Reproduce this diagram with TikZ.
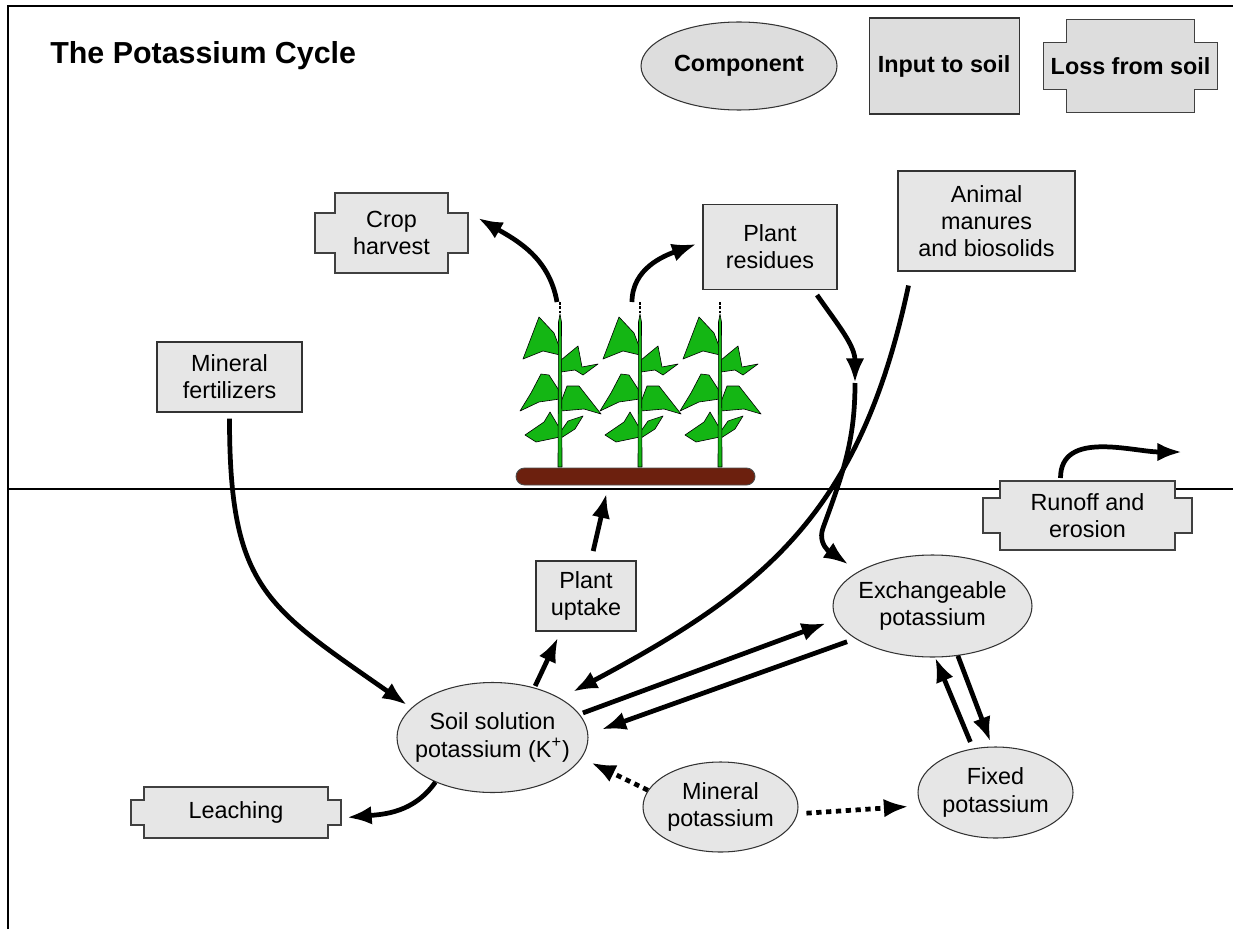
\documentclass[tikz,border=0pt]{standalone}
\usepackage{fontspec}
\setmainfont{Liberation Sans}
\usetikzlibrary{positioning,calc,arrows.meta,shapes.geometric,backgrounds}

\definecolor{boxgray}{RGB}{230,230,230}
\definecolor{keygray}{RGB}{221,221,221}
\definecolor{leafgreen}{RGB}{20,182,20}
\definecolor{soilbrown}{RGB}{108,32,14}

\newcommand{\pxu}{0.02cm}
\newcommand{\potfont}{\fontsize{13.3}{15.5}\selectfont}
% notched outline of a loss box, put behind its node
\newcommand{\lossframe}[3][boxgray]{%
  \begin{scope}[on background layer]
    \filldraw[fill=#1, draw=black!75, line width=0.6pt]
      ($(#2.north west)+(#3,0)$) -- ($(#2.north east)+(-#3,0)$) -- ($(#2.north east)+(-#3,#3)$)
      -- ($(#2.north east)+(0,#3)$) -- ($(#2.south east)+(0,-#3)$) -- ($(#2.south east)+(-#3,-#3)$)
      -- ($(#2.south east)+(-#3,0)$) -- ($(#2.south west)+(#3,0)$) -- ($(#2.south west)+(#3,-#3)$)
      -- ($(#2.south west)+(0,-#3)$) -- ($(#2.north west)+(0,#3)$) -- ($(#2.north west)+(#3,#3)$) -- cycle;
  \end{scope}}

\begin{document}
\begin{tikzpicture}[x=0.02cm, y=-0.02cm, font=\potfont,
  wh/.style 2 args={minimum width=#1*\pxu, minimum height=#2*\pxu},
  comp/.style={ellipse, draw=black!80, fill=boxgray, line width=0.6pt, inner sep=-8pt, align=center},
  inbox/.style={rectangle, draw=black!80, fill=boxgray, line width=0.6pt, inner sep=0pt, align=center},
  lossbox/.style={rectangle, inner sep=0pt, outer sep=0pt, align=center},
  soilbed/.style={rectangle, draw=black!70, fill=soilbrown, line width=0.5pt, rounded corners=0.17cm, wh={239}{17}, inner sep=0pt},
  leaf/.style={fill=leafgreen, draw=black, line width=0.35pt, line join=round},
  flow/.style={line width=2.7pt, -{Latex[length=14pt,width=10.5pt]}},
  slow/.style={flow, dash pattern=on 3pt off 2.6pt}]
\useasboundingbox (0,0) rectangle (1233,929);

% frame and ground surface
\begin{scope}[on background layer]
  \draw[line width=1.1pt] (8,929) -- (8,6) -- (1233,6);
  \draw[line width=0.6pt] (8,489) -- (1233,489);
\end{scope}

% title and key
\node[anchor=base west, inner sep=0pt, font=\fontsize{17.3}{20}\selectfont\bfseries] (title) at (50,64) {The Potassium Cycle};
\node[comp, wh={196}{88}, fill=keygray, font=\potfont\bfseries] (keycomp) at (739,66) {Component};
\node[inbox, wh={150}{96}, fill=keygray, font=\potfont\bfseries, right=0.62cm of keycomp] (keyin) {Input to soil};
\node[lossbox, wh={174}{93}, font=\potfont\bfseries, right=0.48cm of keyin] (keyloss) {Loss from soil};

% crop
\foreach \sx in {560,640,720}{
  \begin{scope}[shift={(\sx,0)}]
    \draw[leaf] (0,349) -- (-6,333) -- (-21,317) -- (-29,338) -- (-37,359) -- (-17,351) -- (0,355) -- cycle;
    \draw[leaf] (1,360) -- (18,346) -- (22,367) -- (38,364) -- (23,375) -- (15,370) -- (1,372) -- cycle;
    \draw[leaf] (0,392) -- (-11,375) -- (-19,374) -- (-29,393) -- (-40,411) -- (-21,402) -- (0,399) -- cycle;
    \draw[leaf] (1,402) -- (7,386) -- (19,386) -- (41,414) -- (24,409) -- (1,411) -- cycle;
    \draw[leaf] (0,429) -- (-10,412) -- (-16,422) -- (-35,435) -- (-24,442) -- (0,437) -- cycle;
    \draw[leaf] (1,431) -- (8,421) -- (23,416) -- (15,429) -- (1,438) -- cycle;
    \draw[leaf] (-2,467) -- (-1.5,322) -- (0,314) -- (1.5,322) -- (2,467) -- cycle;
    \draw[line width=0.8pt, dash pattern=on 1.5pt off 1pt] (0,302) -- (0,313);
  \end{scope}}
\node[soilbed] (bed) at (635.5,476.5) {};
\coordinate (tip1) at (557,302);
\coordinate (tip2) at (632,302);

% inputs, losses and components
\node[lossbox, wh={153}{80}] (crop) at (391.5,233) {Crop\\harvest};
\node[inbox, wh={134}{85}] (residues) at (770,247) {Plant\\residues};
\node[inbox, wh={177}{100}] (manures) at (986.5,221) {Animal\\manures\\and biosolids};
\node[inbox, wh={145}{70}] (minfert) at (229.5,377) {Mineral\\fertilizers};
\node[inbox, wh={100}{70}] (uptake) at (586,596) {Plant\\uptake};
\node[comp, wh={191}{110}] (soil) at (492.5,737.5) {Soil solution\\potassium (K\textsuperscript{+})};
\node[comp, wh={199}{102}] (exch) at (932.5,606) {Exchangeable\\potassium};
\node[comp, wh={155}{91}] (fixed) at (995.5,792.5) {Fixed\\potassium};
\node[comp, wh={155}{90}] (mineral) at (720.5,807) {Mineral\\potassium};
\node[lossbox, wh={209}{69}] (runoff) at (1087.5,515.5) {Runoff and\\erosion};
\node[lossbox, wh={210}{51}] (leach) at (236,812.5) {Leaching};

\lossframe[keygray]{keyloss}{23}
\lossframe{crop}{20}
\lossframe{runoff}{17}
\lossframe{leach}{13}

% flows
\coordinate (bend) at (855,383);
\coordinate (dip) at (823,528);
\coordinate (away) at (1182,452);
\draw[flow, shorten <=3.5pt, shorten >=3pt] (minfert.south) to[out=-90, in=145, looseness=1.3] (soil.160);
\draw[flow, shorten <=1pt] (soil.50) -- ($(uptake.south)+(-28,6)$);
\draw[flow, shorten <=5.5pt] ($(uptake.north)+(5,0)$) -- ($(bed.south)+(-29,8)$);
\draw[flow] (tip1) to[out=100, in=-30] ($(crop.east)+(10,-15)$);
\draw[flow] (tip2) to[out=90, in=200] ($(residues.west)+(-6,-3)$);
\draw[flow] ($(residues.south)+(47,5)$) to[out=-55, in=90] (bend);
\draw[flow, shorten >=7pt] (bend) to[out=-90, in=70] (dip) to[out=-110, in=145] (exch.155);
\draw[flow, shorten >=8pt] ($(manures.south)+(-78,14)$) to[out=-102, in=28, looseness=1.1] (soil.30);
\draw[flow, shorten <=2pt, shorten >=6pt] (soil.15) -- (exch.188);
\draw[flow, shorten <=5pt, shorten >=8pt] (exch.203) -- (soil.2);
\draw[flow, shorten <=4pt] (fixed.117) -- (exch.-87);
\draw[flow, shorten >=3pt] (exch.-63) -- (fixed.94);
\draw[slow, shorten >=6pt] (mineral.167) -- (soil.-13);
\draw[slow, shorten <=5pt, shorten >=7pt] (mineral.-5) -- (fixed.190);
\draw[flow] (soil.218) to[out=-125, in=5] ($(leach.east)+(6,5)$);
\draw[flow] ($(runoff.north)+(-27,-3)$) to[out=90, in=180] (away);
\end{tikzpicture}
\end{document}
